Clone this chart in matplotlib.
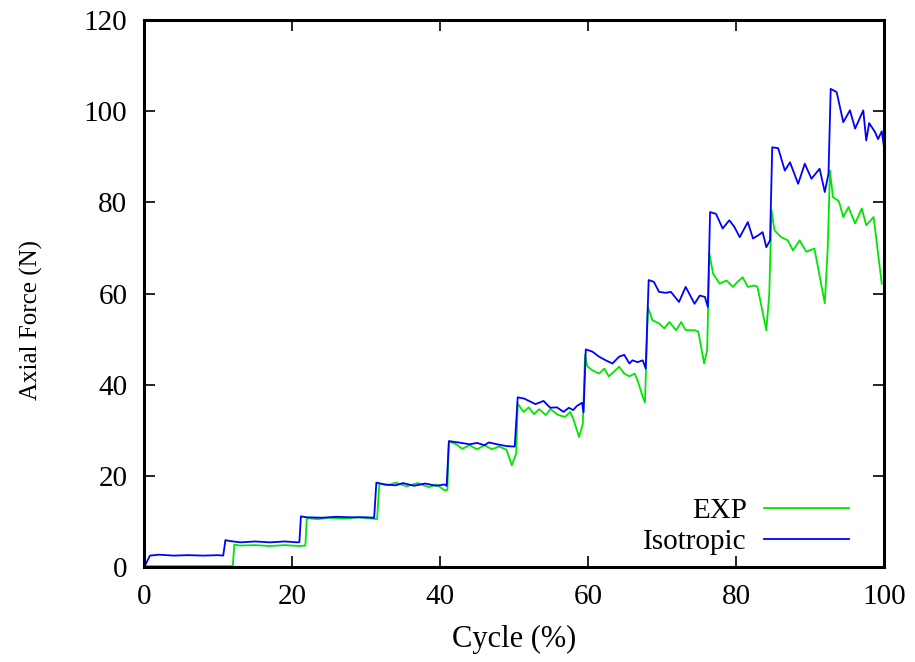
import matplotlib
matplotlib.use("Agg")
import matplotlib.pyplot as plt

# Data (Cycle %, Axial Force N)
iso_x = [0, 0.8, 2, 4, 6, 8, 10, 10.7, 11.0, 11.6, 13, 15, 17, 19, 20.8, 21.0,
         21.2, 22, 24, 26, 28, 30, 31.1, 31.4, 32.5, 34, 35, 36.5, 38, 39.5, 40.6, 40.9,
         41.2, 42.5, 44, 45, 46, 46.6, 48, 49, 50.1,
         50.5, 51.4, 52.9, 54.0, 54.9, 55.8, 56.7, 57.4, 58.0, 58.5, 59.2, 59.4,
         59.7, 60.6, 61.5, 62.4, 63.3, 64.2, 64.9, 65.6, 66.0, 66.7, 67.4, 67.8,
         68.2, 68.9, 69.6, 70.5, 71.2, 72.3, 73.2, 74.4, 75.1, 75.8, 76.2,
         76.5, 77.3, 78.2, 79.1, 79.8, 80.5, 81.6, 82.3, 83.0, 83.6, 84.1, 84.6,
         84.9, 85.7, 86.6, 87.3, 88.4, 89.3, 90.2, 91.3, 92.0, 92.5,
         92.8, 93.6, 94.5, 95.4, 96.1, 97.2, 97.6, 98.0, 98.8, 99.2, 99.7, 100]
iso_y = [0, 2.6, 2.8, 2.6, 2.7, 2.6, 2.7, 2.6, 6.0, 5.8, 5.5, 5.7, 5.5, 5.7, 5.5, 5.6,
         11.2, 11.0, 10.9, 11.1, 11.0, 11.0, 10.9, 18.6, 18.2, 18.0, 18.5, 17.9, 18.4, 17.9, 18.2, 17.9,
         27.7, 27.4, 27.0, 27.3, 26.8, 27.4, 26.9, 26.6, 26.5,
         37.3, 37.0, 35.8, 36.5, 35.0, 35.1, 34.1, 35.0, 34.5, 35.4, 36.1, 34.0,
         47.8, 47.3, 46.2, 45.4, 44.7, 46.2, 46.6, 44.7, 45.4, 45.0, 45.4, 43.6,
         63.0, 62.6, 60.4, 60.2, 60.4, 58.2, 61.5, 57.8, 59.6, 59.3, 57.1,
         77.9, 77.5, 74.3, 76.1, 74.6, 72.4, 75.7, 72.1, 72.8, 73.5, 70.2, 71.7,
         92.1, 91.9, 87.0, 88.8, 84.1, 88.5, 85.2, 87.4, 82.3, 86.3,
         104.9, 104.2, 97.6, 100.2, 96.2, 100.2, 93.6, 97.4, 95.4, 93.9, 95.6, 92.2]

exp_x = [0, 12.0, 12.2, 13, 15, 17, 19, 21, 21.8,
         22.0, 23.5, 25, 27, 29, 31.5,
         31.8, 33, 34, 35.5, 37, 38.5, 39.5, 40.6, 41.0,
         41.2, 42.2, 43.0, 44.0, 45.0, 46.0, 47.0, 48.0, 49.0, 49.7, 50.3,
         50.5, 51.3, 52.0, 52.7, 53.4, 54.3, 54.9, 56.0, 56.9, 57.6, 58.0, 58.8, 59.3,
         59.6, 59.9, 60.6, 61.5, 62.2, 62.8, 63.5, 64.2, 64.9, 65.6, 66.3, 66.7, 67.4, 67.7,
         68.1, 68.7, 69.6, 70.3, 71.0, 71.9, 72.6, 73.2, 74.4, 74.9, 75.7, 76.1,
         76.4, 76.9, 77.8, 78.7, 79.6, 80.2, 80.9, 81.6, 82.5, 82.9, 84.1, 84.5,
         84.8, 85.2, 86.1, 87.0, 87.7, 88.6, 89.5, 90.6, 92.0, 92.4,
         92.7, 93.1, 93.9, 94.5, 95.2, 96.1, 97.0, 97.6, 98.6, 99.7]
exp_y = [0.3, 0.3, 5.0, 4.8, 4.9, 4.7, 4.9, 4.7, 4.8,
         10.8, 10.6, 10.9, 10.7, 11.0, 10.6,
         18.4, 18.0, 18.6, 17.8, 18.5, 17.6, 18.2, 16.9, 17.0,
         27.6, 27.0, 26.0, 26.8, 25.9, 26.8, 25.9, 26.5, 25.8, 22.4, 25.0,
         35.9, 34.1, 35.1, 33.6, 34.7, 33.4, 34.7, 33.4, 33.0, 34.1, 32.6, 28.6, 31.5,
         46.6, 44.1, 43.2, 42.5, 43.6, 41.9, 42.9, 44.0, 42.5, 41.9, 42.5, 41.0, 37.4, 36.2,
         57.1, 54.2, 53.5, 52.4, 53.8, 52.0, 53.8, 52.0, 52.0, 51.7, 44.7, 47.6,
         68.8, 64.4, 62.2, 62.9, 61.5, 62.6, 63.6, 61.5, 61.8, 61.5, 52.0, 60.0,
         78.3, 73.9, 72.4, 71.7, 69.5, 71.7, 69.2, 69.9, 57.9, 70.0,
         87.0, 81.2, 80.3, 76.8, 79.0, 75.4, 78.7, 75.0, 76.8, 62.2]

x_ticks = [0, 20, 40, 60, 80, 100]
y_ticks = [0, 20, 40, 60, 80, 100, 120]

plt.rcParams['font.family'] = ['Liberation Serif', 'DejaVu Serif']
fs = 21

fig = plt.figure(figsize=(9.15, 6.62), dpi=100)
ax = fig.add_axes([0.1574, 0.1428, 0.8087, 0.8270])

ax.plot(exp_x, exp_y, color='#00e600', lw=1.3, label='EXP')
ax.plot(iso_x, iso_y, color='#0000ff', lw=1.3, label='Isotropic')

ax.set_xlim(0, 100)
ax.set_ylim(0, 120)
ax.set_xticks(x_ticks)
ax.set_yticks(y_ticks)
ax.tick_params(direction='in', length=8, width=1.2, top=True, right=True,
               labelsize=fs)
ax.tick_params(axis='x', pad=12)
ax.tick_params(axis='y', pad=12)
for s in ax.spines.values():
    s.set_linewidth(2.2)

ax.set_xlabel('Cycle (%)', fontsize=22)
ax.set_ylabel('Axial Force (N)', fontsize=18)
ax.xaxis.set_label_coords(0.5, -0.105)
ax.yaxis.set_label_coords(-0.137, 0.452)

leg = ax.legend(loc='lower right', fontsize=fs, frameon=False, markerfirst=False,
                handlelength=2.9, handletextpad=0.6, labelspacing=0.15,
                bbox_to_anchor=(0.988, -0.025))
for t in leg.get_texts():
    t.set_ha('right')

fig.savefig('out.png', dpi=100)
